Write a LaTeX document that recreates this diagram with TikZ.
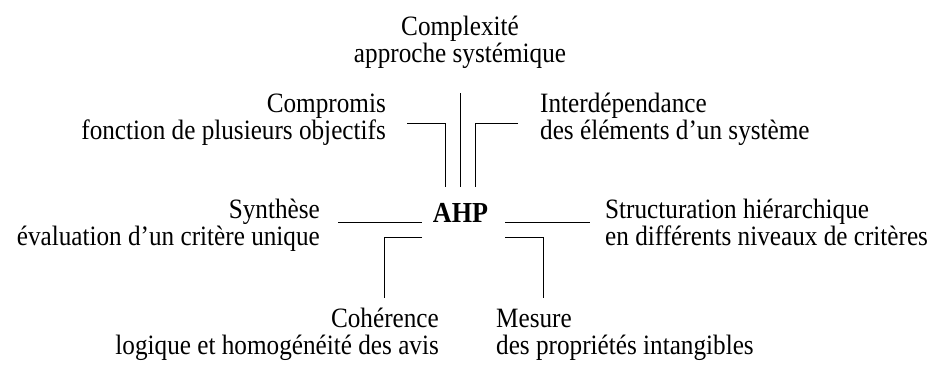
\documentclass[tikz,border=0pt]{standalone}
\usepackage{fontspec}
\setmainfont{Liberation Serif}[FakeStretch=0.9]
\begin{document}
\begin{tikzpicture}[x=1pt,y=-1pt,
  lbl/.style={inner sep=0pt,font=\fontsize{28}{27}\selectfont},
  lblr/.style={lbl,align=right,anchor=base east},
  lbll/.style={lbl,align=left,anchor=base west},
  conn/.style={line width=1pt,line cap=butt}]
\useasboundingbox (0,0) rectangle (941,365);
\node[inner sep=0pt,anchor=base,font=\fontsize{29}{30}\selectfont\bfseries] (ahp) at (460.5,222) {AHP};
\node[lbl,align=center,anchor=base] (complex) at (460,62) {Complexité\\approche systémique};
\node[lblr] (compromis) at (386,139) {Compromis\\fonction de plusieurs objectifs};
\node[lbll] (interdep) at (540,139) {Interdépendance\\des éléments d’un système};
\node[lblr] (synthese) at (320,245) {Synthèse\\évaluation d’un critère unique};
\node[lbll] (struct) at (605,245) {Structuration hiérarchique\\en différents niveaux de critères};
\node[lblr] (coherence) at (439,354) {Cohérence\\logique et homogénéité des avis};
\node[lbll] (mesure) at (496,354) {Mesure\\des propriétés intangibles};
% connector points
\coordinate (c1) at (460,93);  \coordinate (c2) at (460,187);
\coordinate (l1) at (407,123); \coordinate (l2) at (445,123); \coordinate (l3) at (445,187);
\coordinate (r1) at (518,123); \coordinate (r2) at (475,123); \coordinate (r3) at (475,187);
\coordinate (h1) at (338,222); \coordinate (h2) at (422,222);
\coordinate (h3) at (505,222); \coordinate (h4) at (590,222);
\coordinate (bl1) at (422,237); \coordinate (bl2) at (384,237); \coordinate (bl3) at (384,298);
\coordinate (br1) at (505,237); \coordinate (br2) at (543,237); \coordinate (br3) at (543,298);
\draw[conn] (c1) -- (c2);
\draw[conn] (l1) -- (l2) -- (l3);
\draw[conn] (r1) -- (r2) -- (r3);
\draw[conn] (h1) -- (h2);
\draw[conn] (h3) -- (h4);
\draw[conn] (bl1) -- (bl2) -- (bl3);
\draw[conn] (br1) -- (br2) -- (br3);
\end{tikzpicture}
\end{document}
